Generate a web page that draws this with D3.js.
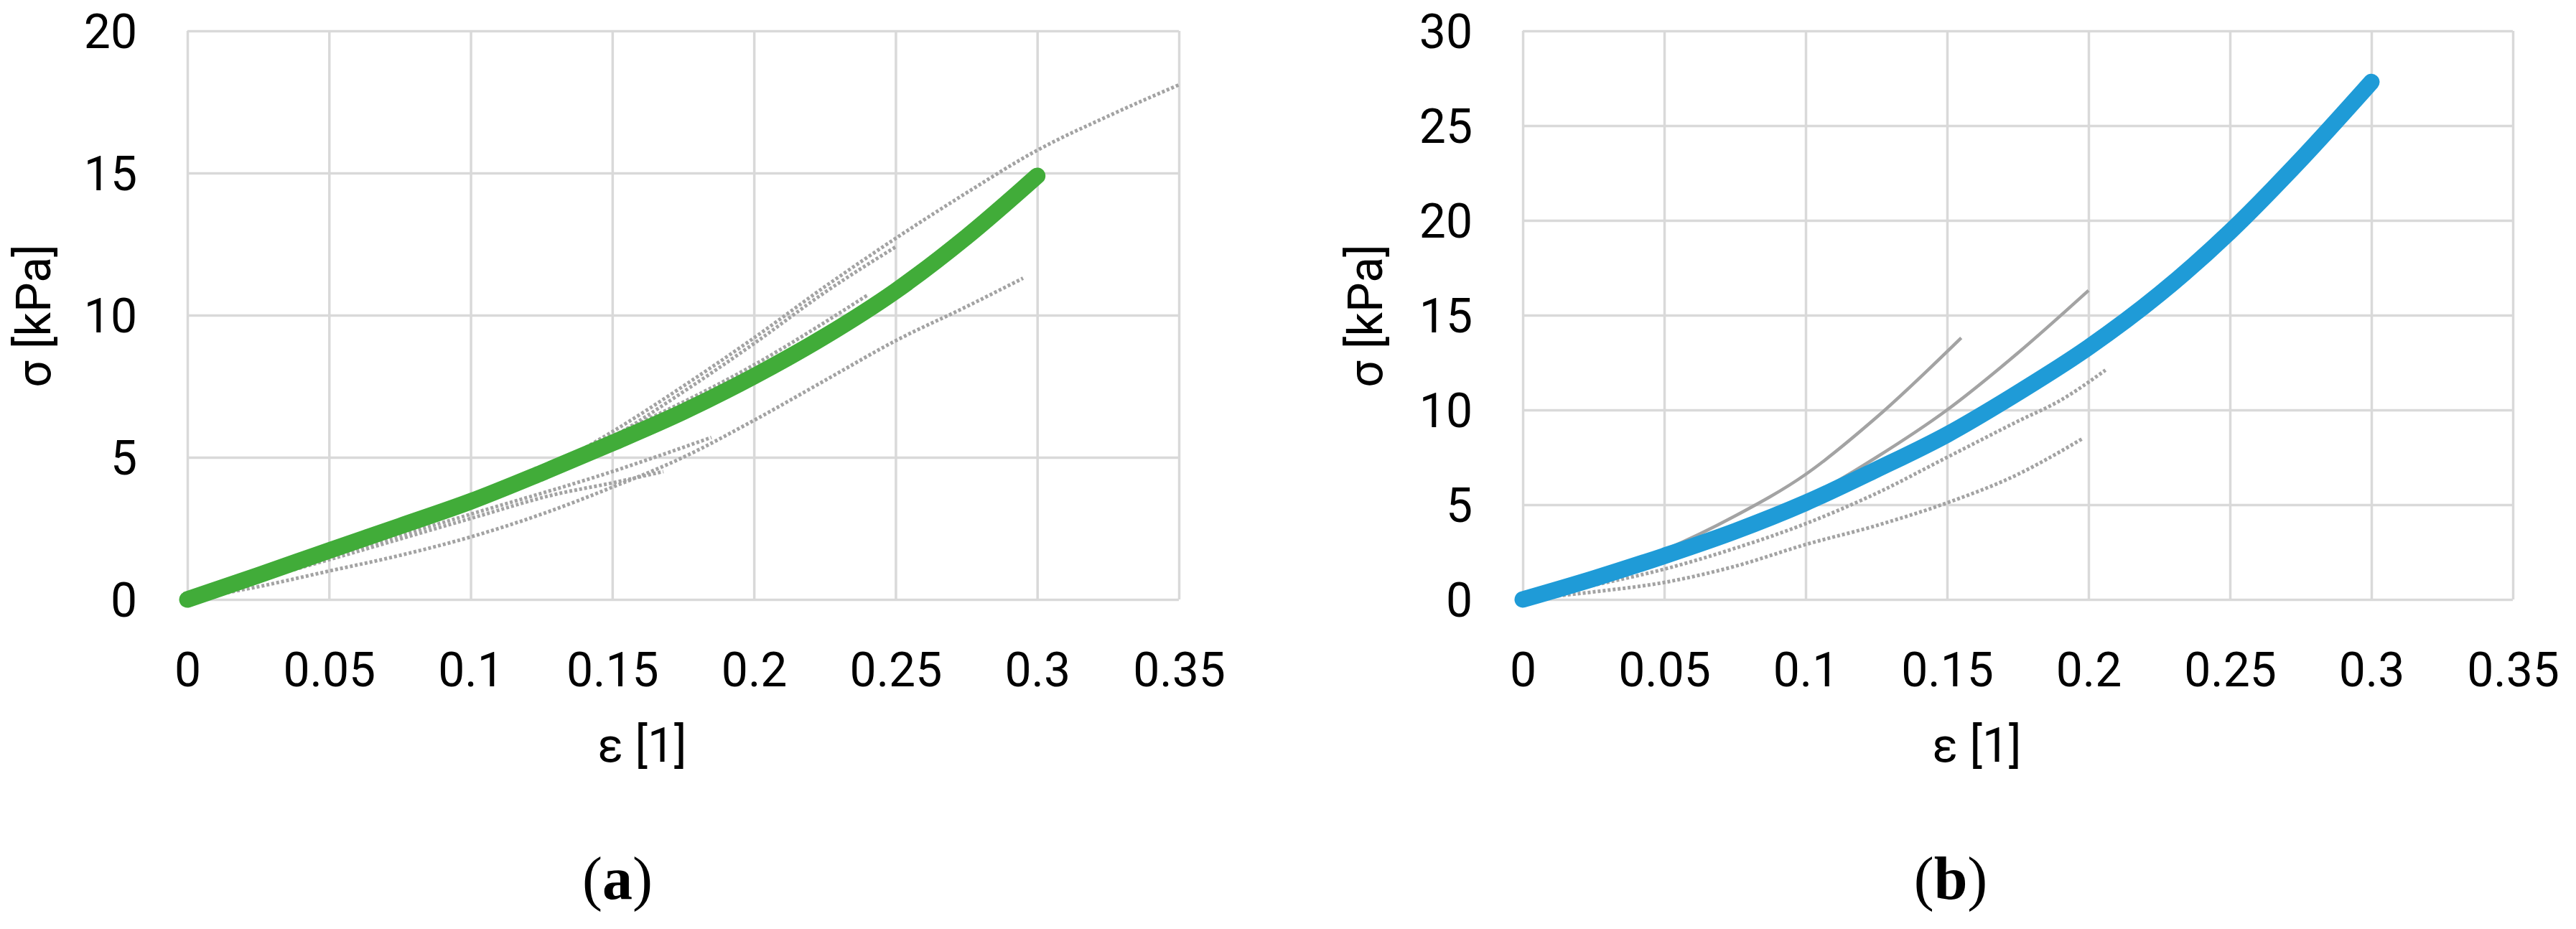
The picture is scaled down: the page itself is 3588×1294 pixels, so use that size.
<!DOCTYPE html>
<html>
<head>
<meta charset="utf-8">
<script src="https://d3js.org/d3.v7.min.js"></script>
<style>
  html, body { margin: 0; padding: 0; background: #ffffff; }
  svg { display: block; }
</style>
</head>
<body>
<script>
'use strict';

// tick values shared by both panels
const strainTicks = [0, 0.05, 0.1, 0.15, 0.2, 0.25, 0.3, 0.35];
const stressTicksA = [0, 5, 10, 15, 20];
const stressTicksB = [0, 5, 10, 15, 20, 25, 30];

// panel (a): fitted curve (green) and measured samples (grey)
const fitA = [[0, 0], [0.025, 0.85], [0.05, 1.72], [0.075, 2.58], [0.1, 3.45], [0.125, 4.45],
  [0.15, 5.5], [0.175, 6.6], [0.2, 7.85], [0.225, 9.25], [0.25, 10.85], [0.275, 12.75], [0.3, 14.9]];
const sampleA1 = [[0, 0], [0.05, 1.6], [0.1, 3.4], [0.125, 4.5], [0.15, 5.9], [0.175, 7.5], [0.2, 9.2],
  [0.225, 11.0], [0.25, 12.7], [0.275, 14.3], [0.3, 15.8], [0.325, 17.0], [0.35, 18.1]];
const sampleA2 = [[0, 0], [0.05, 1.6], [0.1, 3.3], [0.125, 4.4], [0.15, 5.7], [0.175, 7.3], [0.2, 9.0],
  [0.225, 10.8], [0.25, 12.4]];
const sampleA3 = [[0, 0], [0.05, 1.7], [0.1, 3.55], [0.15, 5.75], [0.2, 8.25], [0.24, 10.7]];
const sampleA4 = [[0, 0], [0.025, 0.45], [0.05, 1.0], [0.075, 1.55], [0.1, 2.2], [0.125, 3.0], [0.15, 3.95],
  [0.175, 5.0], [0.2, 6.3], [0.225, 7.7], [0.25, 9.1], [0.275, 10.3], [0.295, 11.3]];
const sampleA5 = [[0, 0], [0.05, 1.4], [0.1, 2.85], [0.13, 3.7], [0.15, 4.1], [0.168, 4.5]];
const sampleA6 = [[0, 0], [0.05, 1.5], [0.1, 3.0], [0.15, 4.5], [0.185, 5.7]];

// panel (b): fitted curve (blue) and measured samples (grey)
const fitB = [[0, 0], [0.025, 1.1], [0.05, 2.3], [0.075, 3.6], [0.1, 5.1], [0.125, 6.85], [0.15, 8.7],
  [0.175, 10.9], [0.2, 13.3], [0.225, 16.1], [0.25, 19.4], [0.275, 23.2], [0.3, 27.3]];
const sampleB1 = [[0, 0], [0.025, 1.2], [0.05, 2.6], [0.075, 4.4], [0.1, 6.6], [0.125, 9.6], [0.155, 13.8]];
const sampleB2 = [[0, 0], [0.05, 2.4], [0.1, 5.3], [0.125, 7.5], [0.15, 10.0], [0.175, 13.0], [0.2, 16.3]];
const sampleB3 = [[0, 0], [0.025, 0.75], [0.05, 1.6], [0.075, 2.7], [0.1, 4.0], [0.125, 5.6], [0.15, 7.5],
  [0.175, 9.4], [0.19, 10.5], [0.206, 12.1]];
const sampleB4 = [[0, 0], [0.025, 0.4], [0.05, 0.9], [0.075, 1.75], [0.1, 2.9], [0.125, 3.9], [0.15, 5.1],
  [0.175, 6.6], [0.19, 7.8], [0.198, 8.5]];

(function () {

  let svgContainer = "";
  const font = "Roboto, 'Open Sans', sans-serif";
  const gridColor = "#d9d9d9";
  const greyColor = "#a3a3a3";

  window.onload = function () {
    svgContainer = d3.select('body')
      .append('svg')
      .attr('width', 3588)
      .attr('height', 1294);

    svgContainer.append('rect')
      .attr('width', 3588)
      .attr('height', 1294)
      .attr('fill', '#ffffff');

    // panel a
    let mapA = drawAxes(261, 1642, stressTicksA);
    plotData(mapA, [sampleA5, sampleA6, sampleA4, sampleA3, sampleA2, sampleA1], [], fitA, '#41ac39');
    makeLabels(261, 1642, 70, 'a', 860);

    // panel b
    let mapB = drawAxes(2121, 3500, stressTicksB);
    plotData(mapB, [sampleB3, sampleB4], [sampleB1, sampleB2], fitB, '#1f9bd7');
    makeLabels(2121, 3500, 1925, 'b', 2717);
  }

  // draw gridlines and tick labels for one panel
  function drawAxes(left, right, yTicks) {
    let top = 43, bottom = 835;

    let xScale = d3.scaleLinear()
      .domain([0, 0.35])
      .range([left, right]);

    let yScale = d3.scaleLinear()
      .domain([0, d3.max(yTicks)])
      .range([bottom, top]);

    let xAxis = d3.axisBottom(xScale)
      .tickValues(strainTicks)
      .tickFormat(d => String(d))
      .tickSize(-(bottom - top))
      .tickPadding(74);

    let gx = svgContainer.append('g')
      .attr('transform', 'translate(0,' + bottom + ')')
      .call(xAxis);

    let yAxis = d3.axisLeft(yScale)
      .tickValues(yTicks)
      .tickFormat(d => String(d))
      .tickSize(-(right - left))
      .tickPadding(70);

    let gy = svgContainer.append('g')
      .attr('transform', 'translate(' + left + ',0)')
      .call(yAxis);

    [gx, gy].forEach(g => {
      g.select('.domain').remove();
      g.selectAll('.tick line')
        .attr('stroke', gridColor)
        .attr('stroke-width', 3.5);
      g.selectAll('.tick text')
        .attr('fill', '#000000')
        .style('font-family', font)
        .style('font-size', '66px');
    });
    gy.selectAll('.tick text').attr('dy', '0.36em');

    return { xScale: xScale, yScale: yScale };
  }

  // grey sample curves first, then the thick fitted curve on top
  function plotData(map, dottedSets, solidSets, fit, color) {
    let valueLine = d3.line()
      .x(d => map.xScale(d[0]))
      .y(d => map.yScale(d[1]))
      .curve(d3.curveMonotoneX);

    svgContainer.append('g')
      .selectAll('path')
      .data(dottedSets)
      .enter()
      .append('path')
      .attr('d', d => valueLine(d))
      .attr('fill', 'none')
      .attr('stroke', greyColor)
      .attr('stroke-width', 5)
      .attr('stroke-dasharray', '4 3');

    svgContainer.append('g')
      .selectAll('path')
      .data(solidSets)
      .enter()
      .append('path')
      .attr('d', d => valueLine(d))
      .attr('fill', 'none')
      .attr('stroke', greyColor)
      .attr('stroke-width', 4.5);

    svgContainer.append('path')
      .attr('d', valueLine(fit))
      .attr('fill', 'none')
      .attr('stroke', color)
      .attr('stroke-width', 23)
      .attr('stroke-linecap', 'round')
      .attr('stroke-linejoin', 'round');
  }

  // axis titles and panel caption
  function makeLabels(left, right, yTitleX, letter, captionX) {
    let midX = (left + right) / 2 - 57;

    svgContainer.append('text')
      .attr('x', midX)
      .attr('y', 1061)
      .attr('text-anchor', 'middle')
      .style('font-family', font)
      .style('font-size', '66px')
      .text('ε [1]');

    svgContainer.append('text')
      .attr('transform', 'translate(' + yTitleX + ', 440)rotate(-90)')
      .attr('text-anchor', 'middle')
      .style('font-family', font)
      .style('font-size', '66px')
      .text('σ [kPa]');

    let cap = svgContainer.append('text')
      .attr('x', captionX)
      .attr('y', 1252)
      .attr('text-anchor', 'middle')
      .style('font-family', "'Liberation Serif', 'DejaVu Serif', serif")
      .style('font-size', '84px');
    cap.append('tspan').text('(');
    cap.append('tspan').style('font-weight', 'bold').text(letter);
    cap.append('tspan').text(')');
  }

})();
</script>
</body>
</html>
